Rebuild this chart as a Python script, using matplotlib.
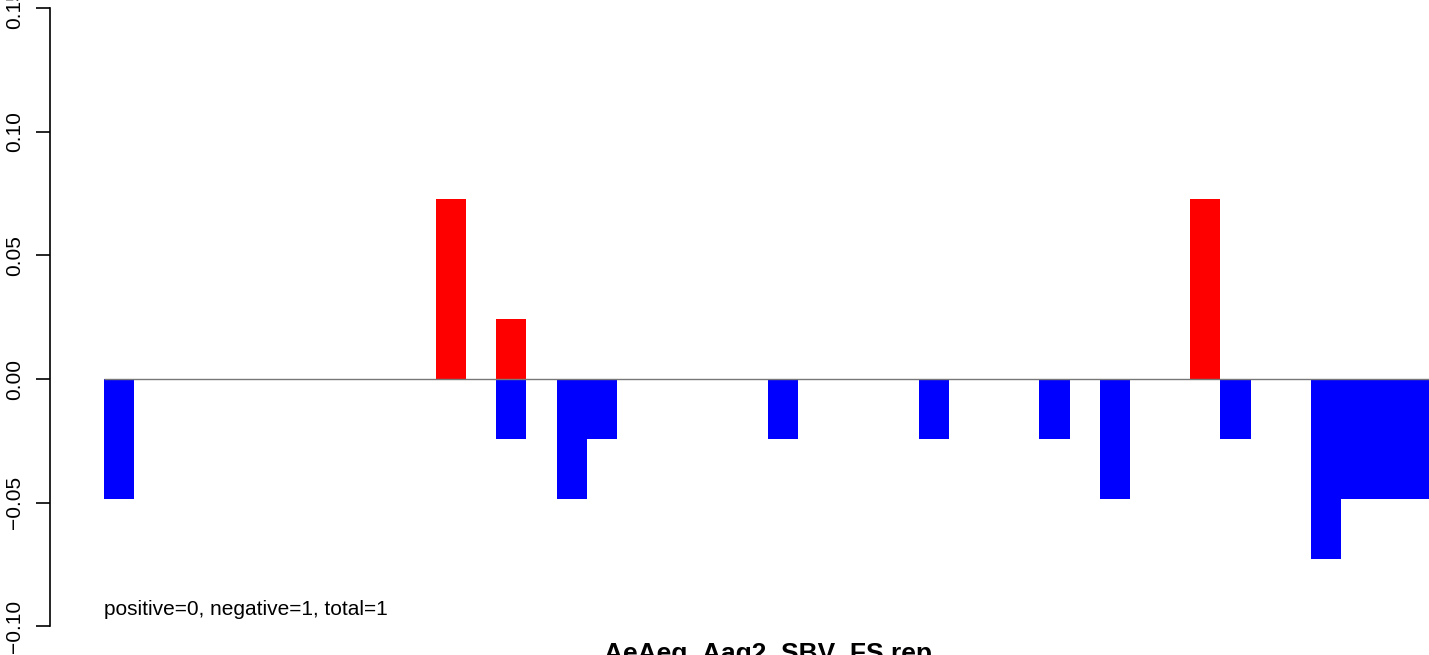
import numpy as np
import matplotlib
matplotlib.use('Agg')
import matplotlib.pyplot as plt

plt.rcParams['font.family'] = ['Liberation Sans', 'DejaVu Sans']

# one slot per position, red bars above zero and blue bars below
n_slots = 44
pos_slots = [11, 13, 36]
pos_vals = [0.0729, 0.0243, 0.0729]
neg_slots = [0, 13, 15, 16, 22, 27, 31, 33, 37, 40, 41, 42, 43]
neg_vals = [-0.0486, -0.0243, -0.0486, -0.0243, -0.0243, -0.0243, -0.0243,
            -0.0486, -0.0243, -0.0729, -0.0486, -0.0486, -0.0486]
y_ticks = [-0.10, -0.05, 0.00, 0.05, 0.10, 0.15]
title = 'AeAeg_Aag2_SBV_FS rep'
note = 'positive=0, negative=1, total=1'

pos = np.zeros(n_slots)
neg = np.zeros(n_slots)
pos[pos_slots] = pos_vals
neg[neg_slots] = neg_vals
x = np.arange(n_slots)

fig = plt.figure(figsize=(14.29, 6.55), dpi=100)
ax = fig.add_axes([0, 0, 1, 1])

ax.bar(x, pos, width=1.0, align='edge', color='#ff0000', linewidth=0)
ax.bar(x, neg, width=1.0, align='edge', color='#0000ff', linewidth=0)
ax.hlines(0, 0, n_slots, color='#777777', linewidth=1)

ax.set_xlim(-3.447, 43.91)
ax.set_ylim(-0.1117, 0.1534)

# R style axis: only the left one, bounded to the tick range
for s in ['top', 'right', 'bottom']:
    ax.spines[s].set_visible(False)
ax.spines['left'].set_position(('data', -1.79))
ax.spines['left'].set_bounds(-0.10, 0.15)
ax.spines['left'].set_linewidth(1.2)
ax.set_xticks([])
ax.set_yticks(y_ticks)
ax.set_yticklabels(['%.2f' % v if v >= 0 else '\u2212%.2f' % -v for v in y_ticks],
                   rotation=90, va='center', fontsize=15)
ax.tick_params(axis='y', length=10, width=1.2, pad=8.5)
ax.patch.set_visible(False)

ax.text(0, -0.0957, note, fontsize=15, ha='left', va='baseline')
fig.text(768 / 1429, -6 / 655, title, fontsize=19, fontweight='bold',
         ha='center', va='baseline')

fig.savefig('out.png', dpi=100)
